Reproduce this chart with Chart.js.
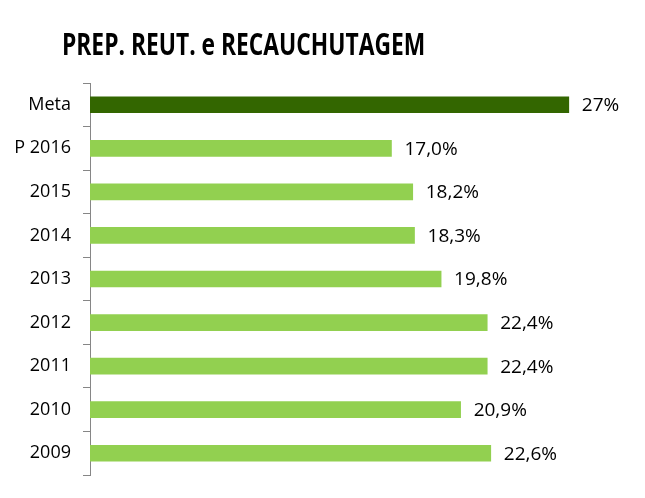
<!DOCTYPE html>
<html>
<head>
<meta charset="utf-8">
<script src="https://cdn.jsdelivr.net/npm/chart.js@4"></script>
<style>
  body { margin: 0; background: #fff; }
  #wrap { position: relative; width: 645px; height: 498px; }
  #title {
    position: absolute; left: 62px; top: 23px;
    font-family: "Open Sans", sans-serif;
    font-weight: bold; font-size: 30px; color: #000; white-space: nowrap;
    transform: scaleX(0.76); transform-origin: left top;
  }
</style>
</head>
<body>
<div id="wrap">
  <div id="title">PREP. REUT. e RECAUCHUTAGEM</div>
  <canvas id="bars" width="645" height="498"></canvas>
</div>
<script>
const categories = ['Meta', 'P 2016', '2015', '2014', '2013', '2012', '2011', '2010', '2009'];
const values = [27, 17.0, 18.2, 18.3, 19.8, 22.4, 22.4, 20.9, 22.6];
const barColors = ['#336600', '#92D050', '#92D050', '#92D050', '#92D050', '#92D050', '#92D050', '#92D050', '#92D050'];

function fmt(v, i) {
  if (categories[i] === 'Meta') return v + '%';
  return v.toFixed(1).replace('.', ',') + '%';
}

// percentages written just right of each bar
const valueLabels = {
  id: 'valueLabels',
  afterDatasetsDraw(chart) {
    const c = chart.ctx;
    const meta = chart.getDatasetMeta(0);
    c.save();
    c.font = '19px "Open Sans", sans-serif';
    c.fillStyle = '#000';
    c.textBaseline = 'middle';
    c.textAlign = 'left';
    meta.data.forEach((bar, i) => {
      c.fillText(fmt(values[i], i), bar.x + 13, bar.y + 1);
    });
    c.restore();
  }
};

const ctx = document.getElementById('bars').getContext('2d');
const chart = new Chart(ctx, {
  type: 'bar',
  data: {
    labels: categories,
    datasets: [{
      data: values,
      backgroundColor: barColors,
      barThickness: 16
    }]
  },
  options: {
    indexAxis: 'y',
    responsive: false,
    animation: false,
    layout: { padding: { top: 83, bottom: 23, right: 23, left: 0 } },
    plugins: { legend: { display: false }, tooltip: { enabled: false } },
    scales: {
      x: { display: false, min: 0, max: 30 },
      y: {
        afterFit(scale) { scale.width = 90; },
        border: { display: true, color: '#868686', width: 1 },
        grid: { offset: true, drawOnChartArea: false, drawTicks: true, tickLength: 7, color: '#868686' },
        ticks: { color: '#000', padding: 12, font: { family: '"Open Sans", sans-serif', size: 18 } }
      }
    }
  },
  plugins: [valueLabels]
});
</script>
</body>
</html>
